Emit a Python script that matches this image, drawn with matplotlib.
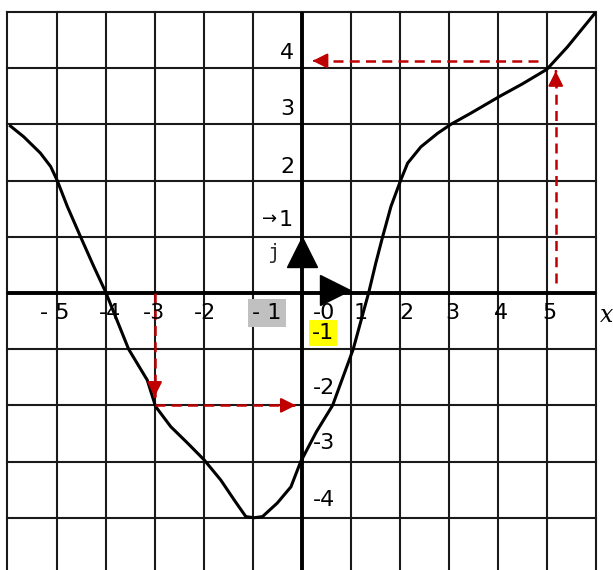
import numpy as np
import matplotlib.pyplot as plt

# curve
xs = [-5.94, -5.67, -5.33, -5.12, -4.99, -4.78, -4.51, -4.24, -4.0, -3.53, -3.15, -2.98,
      -2.67, -2.33, -1.99, -1.65, -1.38, -1.14, -0.97, -0.8, -0.5, -0.22, -0.02, 0.3,
      0.63, 1.05, 1.37, 1.51, 1.65, 1.82, 2.02, 2.16, 2.43, 2.77, 3.04, 3.45, 4.04,
      4.5, 5.0, 5.42, 6.0]
ys = [2.97, 2.78, 2.49, 2.25, 2.01, 1.54, 1.0, 0.47, 0.02, -1.0, -1.55, -2.02,
      -2.38, -2.67, -2.97, -3.33, -3.68, -3.98, -4.0, -3.98, -3.74, -3.45, -3.0, -2.47,
      -2.0, -1.0, 0.02, 0.53, 1.0, 1.54, 2.01, 2.31, 2.6, 2.84, 3.0, 3.2, 3.5,
      3.72, 3.98, 4.38, 5.0]

xlab = ["- 5", "-4", "-3", "-2", "- 1", "-0", "1", "2", "3", "4", "5"]
xlab_pos = [-5.04, -3.9, -3.02, -1.98, -0.71, 0.45, 1.2, 2.13, 3.08, 4.07, 5.05]
ylab = ["4", "3", "2", "-1", "-2", "-3", "-4"]
ylab_pos = [4.27, 3.27, 2.25, -0.71, -1.69, -2.67, -3.68]
ylab_x = [-0.3, -0.3, -0.3, 0.43, 0.45, 0.45, 0.45]

red = '#c00000'
fs = 16

fig = plt.figure(figsize=(6.13, 5.70), dpi=100)
ax = fig.add_axes([0.0122, 0.0, 0.96, 0.979])
ax.set_xlim(-6, 6)
ax.set_ylim(-4.93, 5)
ax.axis('off')

# grid
for gx in range(-6, 7):
    ax.plot([gx, gx], [-4.93, 5], color='#1a1a1a', lw=1.5, clip_on=False, zorder=1)
for gy in range(-4, 6):
    ax.plot([-6, 6], [gy, gy], color='#1a1a1a', lw=1.5, clip_on=False, zorder=1)
ax.plot([-6, 6], [0, 0], color='black', lw=2.8, zorder=2)
ax.plot([0, 0], [-4.93, 5], color='black', lw=2.8, zorder=2)

ax.plot(xs, ys, color='black', lw=2.2, zorder=4, solid_joinstyle='round')

# red dashed projections
def dashed_arrow(x0, y0, x1, y1):
    ax.plot([x0, x1], [y0, y1], color=red, lw=1.8, ls=(0, (4, 2.5)), zorder=5)
    dx, dy = x1 - x0, y1 - y0
    n = np.hypot(dx, dy)
    ax.annotate('', xy=(x1, y1), xytext=(x1 - 0.05 * dx / n, y1 - 0.05 * dy / n),
                arrowprops=dict(arrowstyle='-|>,head_length=0.9,head_width=0.45',
                                color=red, lw=1.5), zorder=6)

dashed_arrow(-3, 0, -3, -1.85)
dashed_arrow(-3, -2, -0.12, -2)
dashed_arrow(5.18, 0.18, 5.18, 3.95)
dashed_arrow(4.81, 4.13, 0.22, 4.13)

# unit vectors
ax.plot([0], [0.72], marker='^', ms=21, color='black', zorder=6)
ax.plot([0.67], [0.045], marker='>', ms=21, color='black', zorder=6)

for t, p in zip(xlab, xlab_pos):
    kw = {}
    if t == "- 1":
        kw['bbox'] = dict(facecolor='#c0c0c0', edgecolor='none', pad=3)
    ax.text(p, -0.36, t, fontsize=fs, ha='center', va='center', zorder=7, **kw)

for t, p, px in zip(ylab, ylab_pos, ylab_x):
    kw = {}
    if t == "-1":
        kw['bbox'] = dict(facecolor='#ffff00', edgecolor='none', pad=2)
    ax.text(px, p, t, fontsize=fs, ha='center', va='center', zorder=7, **kw)

ax.text(-0.33, 1.3, "1", fontsize=fs, ha='center', va='center', zorder=7)
ax.text(-0.66, 1.32, "→", fontsize=13, ha='center', va='center', zorder=7)
ax.text(-0.57, 0.71, "j", fontsize=15, ha='center', va='center', color='#333333',
        family='DejaVu Sans Mono', zorder=7)
ax.text(6.22, -0.4, "x", fontsize=17, ha='center', va='center', style='italic',
        family='DejaVu Serif', clip_on=False)

fig.savefig('out.png', dpi=100)
